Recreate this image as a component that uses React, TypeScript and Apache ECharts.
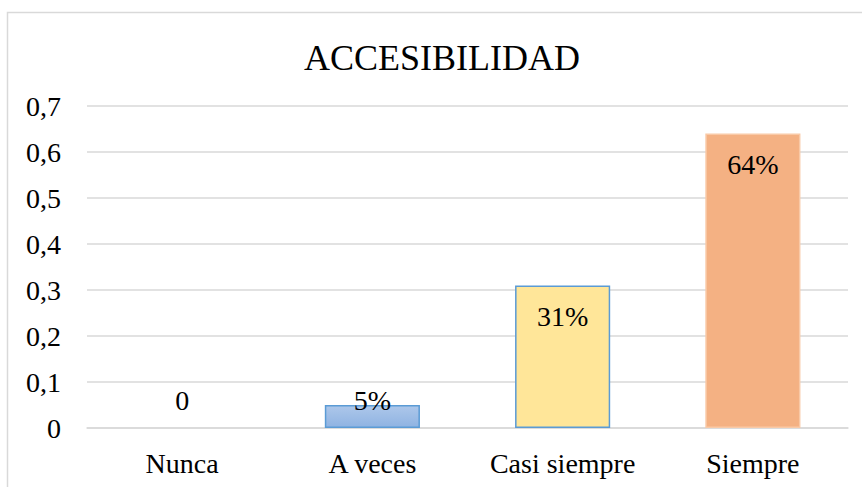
import React, { useEffect, useRef } from "react";
import * as echarts from "echarts";

const title = "ACCESIBILIDAD";
const categories = ["Nunca", "A veces", "Casi siempre", "Siempre"];
const values = [0, 0.05, 0.31, 0.64];
const yTicks = { min: 0, max: 0.7, interval: 0.1 };

const FONT = "Liberation Serif";

export default function App() {
  const ref = useRef<HTMLDivElement>(null);
  useEffect(() => {
    document.body.style.margin = "0";
    if (!ref.current) return;
    const chart = echarts.init(ref.current, undefined, { renderer: "svg" });
    const fills: any[] = [
      "#ffffff",
      new echarts.graphic.LinearGradient(0, 0, 0, 1, [
        { offset: 0, color: "#adc7ea" },
        { offset: 1, color: "#8fb3e2" },
      ]),
      "#ffe699",
      "#f4b183",
    ];
    const borders = ["#5b9bd5", "#5b9bd5", "#5b9bd5", "#f9c9a6"];
    const labelStyle = { fontFamily: FONT, fontSize: 28, color: "#000" };
    const data = values.map((v, i) => ({
      value: v,
      itemStyle: { color: fills[i], borderColor: borders[i], borderWidth: v > 0 ? 1.5 : 0 },
      label:
        v < 0.1
          ? { ...labelStyle, position: "insideBottom", distance: 14 }
          : { ...labelStyle, position: "insideTop", distance: 17 },
    }));
    chart.setOption({
      animation: false,
      backgroundColor: "#ffffff",
      textStyle: { fontFamily: FONT, fontSize: 28, color: "#000" },
      title: {
        text: title,
        left: 437,
        textAlign: "center",
        top: 35,
        textStyle: { fontFamily: FONT, fontSize: 36, fontWeight: "normal", color: "#000" },
      },
      graphic: [
        {
          type: "rect",
          shape: { x: 7.5, y: 12.5, width: 900, height: 600 },
          style: { fill: "none", stroke: "#d9d9d9", lineWidth: 1.5 },
          silent: true,
          z: -10,
        },
      ],
      grid: { left: 87, right: 14, top: 106, bottom: 59, containLabel: false },
      xAxis: {
        type: "category",
        data: categories,
        axisLine: { show: true, lineStyle: { color: "#d9d9d9", width: 1.5 } },
        axisTick: { show: false },
        axisLabel: { ...labelStyle, margin: 21 },
      },
      yAxis: {
        type: "value",
        min: yTicks.min,
        max: yTicks.max,
        interval: yTicks.interval,
        axisLine: { show: false },
        axisTick: { show: false },
        splitLine: { lineStyle: { color: "#d9d9d9", width: 1.5 } },
        axisLabel: {
          ...labelStyle,
          margin: 26,
          formatter: (v: number) => String(Math.round(v * 10) / 10).replace(".", ","),
        },
      },
      series: [
        {
          type: "bar",
          data,
          barWidth: "50%",
          label: {
            show: true,
            ...labelStyle,
            formatter: (p: any) => (p.value === 0 ? "0" : Math.round(p.value * 100) + "%"),
          },
        },
      ],
    });
    return () => chart.dispose();
  }, []);
  return <div ref={ref} style={{ width: 862, height: 487 }} />;
}
